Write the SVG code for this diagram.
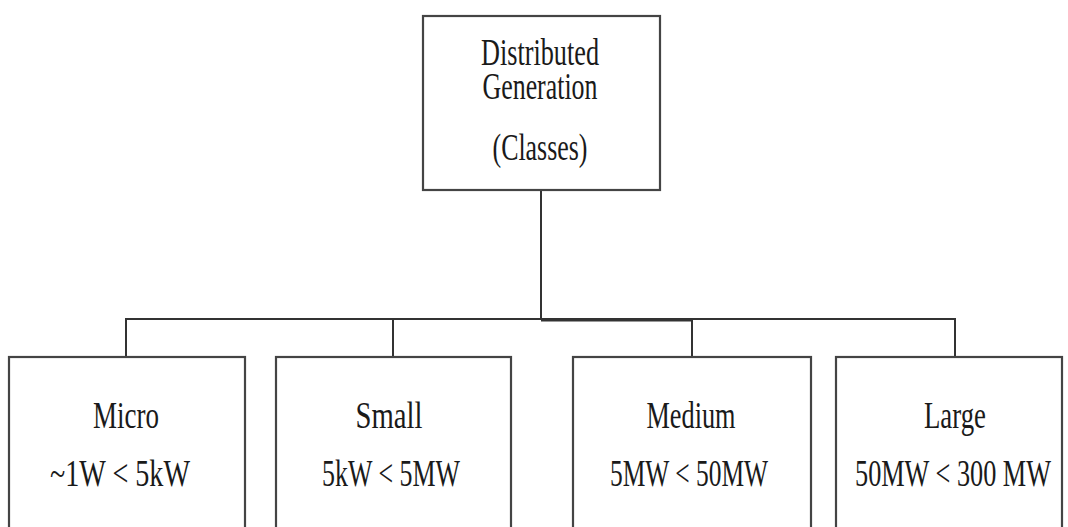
<svg xmlns="http://www.w3.org/2000/svg" width="1068" height="527" viewBox="0 0 1068 527">
<style>
.box{fill:#fff;stroke:#444;stroke-width:2.2}
.t{font-family:"Liberation Serif","Times New Roman",serif;font-size:37px;fill:#1a1a1a;text-anchor:middle}
.c{fill:none;stroke:#333;stroke-width:2}
</style>
<rect width="1068" height="527" fill="#fff"/>
<g id="connectors">
<line class="c" x1="541" y1="190" x2="541" y2="320"/>
<polyline class="c" points="126,357 126,319 955,319 955,357"/>
<line class="c" x1="393" y1="319" x2="393" y2="357"/>
<line class="c" x1="692" y1="320" x2="692" y2="357"/>
<line class="c" x1="541" y1="320" x2="692" y2="320" style="stroke-width:3"/>
</g>
<g id="root">
<rect class="box" x="423" y="16" width="237" height="174"/>
<text class="t" x="540" y="65" textLength="118" lengthAdjust="spacingAndGlyphs">Distributed</text>
<text class="t" x="540" y="99" textLength="115" lengthAdjust="spacingAndGlyphs">Generation</text>
<text class="t" x="540" y="160" textLength="95" lengthAdjust="spacingAndGlyphs">(Classes)</text>
</g>
<g id="micro">
<rect class="box" x="9" y="357" width="236" height="180"/>
<text class="t" x="126" y="428" textLength="66" lengthAdjust="spacingAndGlyphs">Micro</text>
<text class="t" x="120" y="486" textLength="140" lengthAdjust="spacingAndGlyphs">~1W &lt; 5kW</text>
</g>
<g id="small">
<rect class="box" x="276" y="357" width="235" height="180"/>
<text class="t" x="389" y="428" textLength="67" lengthAdjust="spacingAndGlyphs">Small</text>
<text class="t" x="391" y="486" textLength="138" lengthAdjust="spacingAndGlyphs">5kW &lt; 5MW</text>
</g>
<g id="medium">
<rect class="box" x="573" y="357" width="238" height="180"/>
<text class="t" x="691" y="428" textLength="89" lengthAdjust="spacingAndGlyphs">Medium</text>
<text class="t" x="689" y="486" textLength="158" lengthAdjust="spacingAndGlyphs">5MW &lt; 50MW</text>
</g>
<g id="large">
<rect class="box" x="836" y="357" width="226" height="180"/>
<text class="t" x="955" y="428" textLength="62" lengthAdjust="spacingAndGlyphs">Large</text>
<text class="t" x="953" y="486" textLength="196" lengthAdjust="spacingAndGlyphs">50MW &lt; 300 MW</text>
</g>
</svg>
